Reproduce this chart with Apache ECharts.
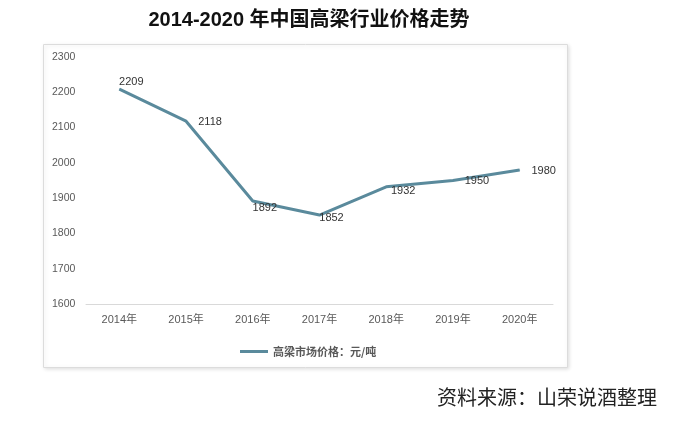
<!DOCTYPE html>
<html>
<head>
<meta charset="utf-8">
<script src="https://cdn.jsdelivr.net/npm/echarts@6/dist/echarts.min.js"></script>
<style>
  html, body { margin: 0; padding: 0; background: #fff; }
  #chart { width: 684px; height: 421px; }
</style>
</head>
<body>
<div id="chart"></div>
<script>
// data
const years = ['2014年', '2015年', '2016年', '2017年', '2018年', '2019年', '2020年'];
const prices = [2209, 2118, 1892, 1852, 1932, 1950, 1980];
const seriesName = '高梁市场价格：元/吨';

// label offsets from each point (px)
const labelOffsets = [[12, -7], [24, 1], [12, 7], [12, 3], [17, 4], [24, 0], [24, 1]];

const lineColor = '#5a8a9c';
const fontFam = 'Liberation Sans, Arial, "Noto Sans CJK SC", sans-serif';

const chart = echarts.init(document.getElementById('chart'));

const option = {
  animation: false,
  textStyle: { fontFamily: fontFam },
  title: {
    text: '2014-2020 年中国高梁行业价格走势',
    left: 304,
    textAlign: 'center',
    top: 5,
    textStyle: {
      fontSize: 20,
      fontWeight: 'bold',
      color: '#111',
      fontFamily: 'Liberation Sans, "Noto Sans CJK SC", sans-serif'
    }
  },
  graphic: [
    {
      type: 'rect',
      z: -10,
      shape: { x: 43.5, y: 44.5, width: 524, height: 323 },
      style: {
        fill: '#fff',
        stroke: '#dcdcdc',
        lineWidth: 1,
        shadowBlur: 4,
        shadowColor: 'rgba(0,0,0,0.12)',
        shadowOffsetX: 1,
        shadowOffsetY: 1
      }
    },
    {
      type: 'text',
      left: 437,
      top: 387,
      style: {
        text: '资料来源：山荣说酒整理',
        fontSize: 20,
        fill: '#222',
        fontFamily: '"Noto Sans CJK SC", sans-serif'
      }
    }
  ],
  legend: {
    left: 235,
    top: 341,
    icon: 'rect',
    itemWidth: 28,
    itemHeight: 3,
    itemGap: 4,
    textStyle: {
      fontSize: 11,
      color: '#595959',
      fontWeight: 'bold',
      fontFamily: '"Noto Sans CJK SC", sans-serif'
    },
    data: [seriesName]
  },
  grid: {
    left: 86,
    right: 131,
    top: 57,
    bottom: 117
  },
  xAxis: {
    type: 'category',
    data: years,
    boundaryGap: true,
    axisLine: { lineStyle: { color: '#d9d9d9', width: 1 } },
    axisTick: { show: false },
    axisLabel: {
      margin: 10,
      fontSize: 11,
      color: '#595959',
      fontFamily: fontFam
    }
  },
  yAxis: {
    type: 'value',
    min: 1600,
    max: 2300,
    interval: 100,
    splitLine: { show: false },
    axisLine: { show: false },
    axisTick: { show: false },
    axisLabel: {
      align: 'left',
      margin: 34,
      fontSize: 10.5,
      color: '#595959',
      fontFamily: fontFam,
      formatter: (v) => String(v)
    }
  },
  series: [
    {
      name: seriesName,
      type: 'line',
      data: prices.map((v, i) => ({
        value: v,
        label: { offset: labelOffsets[i] }
      })),
      symbol: 'circle',
      symbolSize: 1,
      lineStyle: { color: lineColor, width: 3 },
      itemStyle: { color: lineColor },
      label: {
        show: true,
        position: 'inside',
        fontSize: 11,
        color: '#333',
        fontFamily: fontFam
      }
    }
  ]
};

chart.setOption(option);
</script>
</body>
</html>
